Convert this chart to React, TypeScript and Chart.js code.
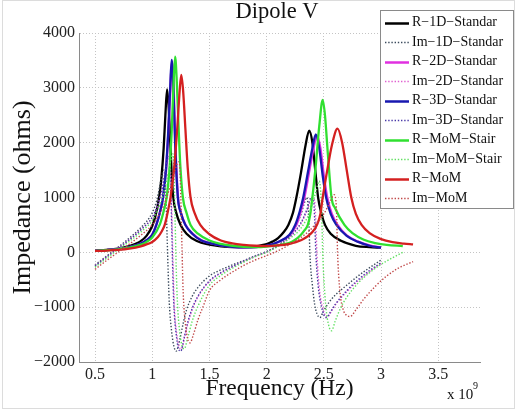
import React, { useEffect, useRef } from "react";
import { Chart, registerables } from "chart.js";

Chart.register(...registerables);

const FONT = '"Liberation Serif", "Times New Roman", "DejaVu Serif", serif';

const titleText = "Dipole V";
const xTitle = "Frequency (Hz)";
const yTitle = "Impedance (ohms)";
const xTicks = [0.5, 1, 1.5, 2, 2.5, 3, 3.5];
const yTicks = [-2000, -1000, 0, 1000, 2000, 3000, 4000];

const seriesLabels = [
  "R−1D−Standar",
  "Im−1D−Standar",
  "R−2D−Standar",
  "Im−2D−Standar",
  "R−3D−Standar",
  "Im−3D−Standar",
  "R−MoM−Stair",
  "Im−MoM−Stair",
  "R−MoM",
  "Im−MoM",
];
const seriesColors = [
  "#000000",
  "#3a4a5c",
  "#e030e0",
  "#e060d0",
  "#1818b0",
  "#4a3aa8",
  "#30e030",
  "#60e060",
  "#d42020",
  "#c04848",
];
const seriesDotted = [false, true, false, true, false, true, false, true, false, true];

// frequency in GHz (x 10^9 Hz), impedance in ohms
const r1D: [number, number][] = [
  [0.5, 30], [0.6, 45], [0.7, 68], [0.8, 112], [0.85, 150], [0.9, 205], [0.95, 300], [1.0, 480],
  [1.03, 680], [1.06, 1000], [1.08, 1350], [1.1, 1900], [1.115, 2500], [1.13, 2970], [1.145, 2600],
  [1.16, 1900], [1.172, 1350], [1.184, 1000], [1.21, 720], [1.248, 500], [1.3, 340], [1.39, 205],
  [1.5, 140], [1.6, 110], [1.7, 96], [1.8, 95], [1.9, 110], [2.0, 150], [2.05, 195], [2.1, 260],
  [2.15, 370], [2.19, 500], [2.23, 720], [2.26, 1000], [2.3, 1450], [2.34, 1950], [2.372, 2220],
  [2.4, 2000], [2.425, 1500], [2.45, 1000], [2.48, 700], [2.51, 500], [2.56, 340], [2.65, 210],
  [2.78, 120], [2.9, 95], [3.0, 85],
];
const im1D: [number, number][] = [
  [0.5, -230], [0.6, -70], [0.7, 90], [0.8, 260], [0.9, 450], [1.0, 720], [1.04, 950], [1.07, 1250],
  [1.09, 1450], [1.1, 1500], [1.11, 1400], [1.12, 1000], [1.13, 300], [1.14, -400], [1.15, -950],
  [1.17, -1450], [1.19, -1720], [1.21, -1800], [1.24, -1600], [1.27, -1300], [1.3, -1050], [1.35, -800],
  [1.4, -640], [1.5, -430], [1.6, -320], [1.7, -230], [1.8, -150], [1.9, -65], [2.0, 15], [2.1, 130],
  [2.2, 310], [2.25, 460], [2.3, 690], [2.33, 900], [2.35, 1000], [2.36, 900], [2.37, 500], [2.38, -100],
  [2.4, -600], [2.42, -950], [2.44, -1120], [2.465, -1190], [2.5, -1060], [2.55, -900], [2.6, -780],
  [2.7, -600], [2.8, -430], [2.9, -280], [3.0, -140],
];
const r2D: [number, number][] = [
  [0.5, 30], [0.6, 42], [0.7, 61], [0.8, 97], [0.9, 162], [0.95, 222], [1.0, 325], [1.036, 505],
  [1.07, 760], [1.095, 1000], [1.12, 1480], [1.14, 2150], [1.157, 2900], [1.172, 3480], [1.187, 3050],
  [1.202, 2000], [1.226, 1000], [1.25, 730], [1.29, 505], [1.35, 345], [1.43, 218], [1.5, 172],
  [1.6, 127], [1.7, 101], [1.8, 90], [1.9, 94], [2.0, 118], [2.1, 185], [2.2, 310], [2.26, 500],
  [2.3, 760], [2.33, 1000], [2.37, 1450], [2.41, 1900], [2.44, 2130], [2.47, 1900], [2.5, 1400],
  [2.53, 1000], [2.57, 700], [2.62, 500], [2.7, 310], [2.8, 195], [2.9, 125], [3.0, 88],
];
const im2D: [number, number][] = [
  [0.5, -245], [0.6, -85], [0.7, 72], [0.8, 232], [0.9, 412], [1.0, 635], [1.05, 870], [1.09, 1180],
  [1.12, 1520], [1.145, 1740], [1.155, 1650], [1.165, 1200], [1.175, 400], [1.185, -450], [1.195, -1050],
  [1.215, -1500], [1.235, -1720], [1.255, -1760], [1.285, -1530], [1.315, -1270], [1.355, -1010],
  [1.4, -810], [1.5, -530], [1.6, -380], [1.7, -265], [1.8, -165], [1.9, -75], [2.0, 5], [2.1, 115],
  [2.2, 270], [2.3, 520], [2.36, 800], [2.4, 1000], [2.42, 930], [2.43, 550], [2.44, -50], [2.46, -650],
  [2.49, -1020], [2.53, -1180], [2.57, -1060], [2.61, -930], [2.7, -720], [2.8, -520], [2.9, -350],
  [3.0, -200],
];
const r3D: [number, number][] = [
  [0.5, 30], [0.6, 42], [0.7, 60], [0.8, 95], [0.9, 160], [0.95, 220], [1.0, 320], [1.036, 500],
  [1.07, 750], [1.094, 1000], [1.12, 1500], [1.14, 2200], [1.155, 2900], [1.17, 3510], [1.185, 3000],
  [1.2, 2000], [1.224, 1000], [1.25, 720], [1.29, 500], [1.35, 340], [1.43, 215], [1.5, 170], [1.6, 125],
  [1.7, 100], [1.8, 90], [1.9, 95], [2.0, 120], [2.1, 190], [2.2, 320], [2.25, 500], [2.29, 750],
  [2.32, 1000], [2.36, 1450], [2.4, 1900], [2.43, 2150], [2.46, 1900], [2.49, 1400], [2.52, 1000],
  [2.56, 700], [2.61, 500], [2.7, 300], [2.8, 190], [2.9, 120], [3.0, 85],
];
const im3D: [number, number][] = [
  [0.5, -250], [0.6, -90], [0.7, 70], [0.8, 230], [0.9, 410], [1.0, 640], [1.05, 880], [1.09, 1200],
  [1.12, 1550], [1.14, 1750], [1.15, 1700], [1.16, 1300], [1.17, 500], [1.18, -400], [1.19, -1000],
  [1.21, -1500], [1.23, -1760], [1.25, -1800], [1.28, -1550], [1.31, -1280], [1.35, -1020], [1.4, -800],
  [1.5, -520], [1.6, -370], [1.7, -260], [1.8, -160], [1.9, -70], [2.0, 10], [2.1, 120], [2.2, 280],
  [2.3, 540], [2.35, 770], [2.39, 1000], [2.41, 950], [2.42, 600], [2.43, 0], [2.45, -600], [2.48, -1000],
  [2.52, -1190], [2.56, -1080], [2.6, -950], [2.7, -700], [2.8, -500], [2.9, -330], [3.0, -190],
];
const rStair: [number, number][] = [
  [0.5, 28], [0.6, 38], [0.7, 55], [0.8, 85], [0.9, 140], [0.95, 190], [1.0, 270], [1.065, 500],
  [1.1, 750], [1.126, 1000], [1.15, 1500], [1.17, 2200], [1.185, 3000], [1.2, 3570], [1.215, 3100],
  [1.23, 2300], [1.245, 1600], [1.268, 1000], [1.3, 720], [1.335, 500], [1.4, 340], [1.5, 215],
  [1.6, 155], [1.7, 120], [1.8, 102], [1.9, 96], [2.0, 105], [2.1, 130], [2.2, 175], [2.25, 230],
  [2.3, 320], [2.33, 400], [2.36, 500], [2.38, 680], [2.4, 1000], [2.43, 1600], [2.46, 2300],
  [2.49, 2780], [2.51, 2500], [2.535, 1800], [2.567, 1000], [2.6, 800], [2.68, 500], [2.75, 350],
  [2.85, 230], [2.95, 170], [3.05, 135], [3.19, 115],
];
const imStair: [number, number][] = [
  [0.5, -270], [0.6, -110], [0.7, 50], [0.8, 200], [0.9, 370], [1.0, 580], [1.05, 780], [1.1, 1080],
  [1.14, 1450], [1.17, 1750], [1.18, 1800], [1.19, 1500], [1.2, 600], [1.21, -300], [1.22, -900],
  [1.24, -1450], [1.26, -1700], [1.28, -1760], [1.31, -1560], [1.35, -1250], [1.4, -980], [1.5, -600],
  [1.6, -420], [1.7, -290], [1.8, -180], [1.9, -80], [2.0, 0], [2.1, 110], [2.2, 250], [2.3, 440],
  [2.38, 750], [2.43, 1100], [2.46, 1300], [2.48, 800], [2.49, 0], [2.51, -800], [2.53, -1200],
  [2.567, -1430], [2.6, -1250], [2.65, -1000], [2.7, -820], [2.8, -560], [2.9, -370], [3.0, -220],
  [3.1, -100], [3.19, 0],
];
const rMoM: [number, number][] = [
  [0.5, 25], [0.6, 32], [0.7, 45], [0.8, 68], [0.9, 110], [0.95, 145], [1.0, 190], [1.05, 280],
  [1.08, 370], [1.109, 500], [1.14, 780], [1.16, 1000], [1.19, 1500], [1.22, 2300], [1.24, 2950],
  [1.254, 3236], [1.27, 2950], [1.29, 2250], [1.31, 1550], [1.335, 1000], [1.37, 720], [1.42, 500],
  [1.5, 330], [1.6, 215], [1.7, 162], [1.8, 135], [1.9, 120], [2.0, 115], [2.1, 125], [2.2, 155],
  [2.3, 220], [2.35, 280], [2.4, 370], [2.44, 500], [2.47, 700], [2.49, 1000], [2.53, 1500],
  [2.57, 1950], [2.62, 2255], [2.66, 2000], [2.7, 1500], [2.74, 1000], [2.78, 700], [2.83, 500],
  [2.9, 350], [3.0, 240], [3.1, 185], [3.2, 160], [3.28, 145],
];
const imMoM: [number, number][] = [
  [0.5, -310], [0.6, -150], [0.7, 0], [0.8, 150], [0.9, 310], [1.0, 500], [1.05, 650], [1.1, 850],
  [1.15, 1150], [1.2, 1500], [1.23, 1650], [1.24, 1600], [1.25, 1000], [1.26, 100], [1.27, -700],
  [1.29, -1300], [1.31, -1580], [1.33, -1650], [1.36, -1500], [1.4, -1230], [1.45, -960], [1.5, -700],
  [1.6, -500], [1.7, -360], [1.8, -240], [1.9, -140], [2.0, -60], [2.1, 30], [2.2, 140], [2.3, 270],
  [2.4, 450], [2.5, 700], [2.55, 900], [2.59, 1050], [2.61, 800], [2.62, 0], [2.64, -700], [2.67, -1050],
  [2.7, -1150], [2.73, -1170], [2.78, -1050], [2.85, -850], [2.95, -620], [3.05, -430], [3.15, -290],
  [3.28, -170],
];

const seriesData = [r1D, im1D, r2D, im2D, r3D, im3D, rStair, imStair, rMoM, imMoM];

const overlay = {
  id: "overlay",
  afterDraw(chart: any) {
    const ctx = chart.ctx as CanvasRenderingContext2D;
    ctx.save();
    // faint image frame
    ctx.strokeStyle = "#dcdcdc";
    ctx.lineWidth = 1;
    ctx.strokeRect(2.5, 0.5, 512, 408);

    // title
    ctx.fillStyle = "#111";
    ctx.font = `22.5px ${FONT}`;
    ctx.textAlign = "center";
    ctx.textBaseline = "middle";
    ctx.fillText(titleText, 277, 12);

    // x 10^9
    ctx.textAlign = "left";
    ctx.textBaseline = "alphabetic";
    ctx.font = `15px ${FONT}`;
    ctx.fillText("x 10", 447, 399);
    ctx.font = `10px ${FONT}`;
    ctx.fillText("9", 473, 389);

    // legend
    const bx = 380, by = 10, bw = 134, bh = 199;
    ctx.fillStyle = "#ffffff";
    ctx.fillRect(bx, by, bw, bh);
    ctx.strokeStyle = "#8a8a8a";
    ctx.lineWidth = 1;
    ctx.strokeRect(bx + 0.5, by + 0.5, bw - 1, bh - 1);
    ctx.font = `14px ${FONT}`;
    ctx.textBaseline = "middle";
    seriesLabels.forEach((lab, i) => {
      const y = 22.7 + i * 19.5;
      ctx.save();
      ctx.strokeStyle = seriesColors[i];
      if (seriesDotted[i]) {
        ctx.lineWidth = 1.3;
        ctx.setLineDash([1.4, 1.8]);
      } else {
        ctx.lineWidth = 2.5;
      }
      ctx.beginPath();
      ctx.moveTo(385, Math.round(y) + 0.5);
      ctx.lineTo(409, Math.round(y) + 0.5);
      ctx.stroke();
      ctx.restore();
      ctx.fillStyle = "#111";
      ctx.fillText(lab, 412, y);
    });
    ctx.restore();
  },
};

export default function App() {
  const ref = useRef<HTMLCanvasElement>(null);
  useEffect(() => {
    const canvas = ref.current;
    if (!canvas) return;
    const datasets = seriesData.map((arr, i) => ({
      label: seriesLabels[i],
      data: arr.map(([x, y]) => ({ x, y })),
      borderColor: seriesColors[i],
      backgroundColor: seriesColors[i],
      borderWidth: seriesDotted[i] ? 1.4 : 2.3,
      borderDash: seriesDotted[i] ? [1.4, 1.8] : [],
      pointRadius: 0,
      fill: false,
      cubicInterpolationMode: "monotone" as const,
      order: 20 - i,
    }));
    const chart = new Chart(canvas, {
      type: "line",
      data: { datasets },
      options: {
        responsive: false,
        animation: false,
        devicePixelRatio: 1,
        layout: { padding: { left: 0, right: 36, top: 33, bottom: 0 } },
        plugins: {
          legend: { display: false },
          title: { display: false },
          tooltip: { enabled: false },
        },
        scales: {
          x: {
            type: "linear",
            min: 0.36,
            max: 3.865,
            afterBuildTicks: (s: any) => {
              s.ticks = xTicks.map((v) => ({ value: v }));
            },
            afterFit: (s: any) => {
              s.height = 48;
            },
            ticks: {
              font: { family: FONT, size: 16 },
              color: "#222",
              padding: 3,
              autoSkip: false,
              maxRotation: 0,
              callback: (v: any) => String(v),
            },
            grid: { color: "#c4c4c4", lineWidth: 1, drawTicks: false },
            border: { display: true, color: "#8a8a8a", width: 1, dash: [1, 2] },
            title: {
              display: true,
              text: xTitle,
              font: { family: FONT, size: 23.5 },
              color: "#111",
              padding: { top: 0, bottom: 7 },
            },
          },
          y: {
            type: "linear",
            min: -2000,
            max: 4000,
            afterBuildTicks: (s: any) => {
              s.ticks = yTicks.map((v) => ({ value: v }));
            },
            afterFit: (s: any) => {
              s.width = 79;
            },
            ticks: {
              font: { family: FONT, size: 16 },
              color: "#222",
              padding: 4,
              autoSkip: false,
              callback: (v: any) => (Number(v) < 0 ? "−" + Math.abs(Number(v)) : String(v)),
            },
            grid: { color: "#c4c4c4", lineWidth: 1, drawTicks: false },
            border: { display: true, color: "#8a8a8a", width: 1, dash: [1, 2] },
            title: {
              display: true,
              text: yTitle,
              font: { family: FONT, size: 26 },
              color: "#111",
              padding: { top: 8, bottom: 0 },
            },
          },
        },
      },
      plugins: [overlay],
    });
    return () => chart.destroy();
  }, []);
  return (
    <div style={{ position: "fixed", left: 0, top: 0, width: 516, height: 410, background: "#fff" }}>
      <canvas ref={ref} width={516} height={410} style={{ display: "block", width: 516, height: 410 }} />
    </div>
  );
}
